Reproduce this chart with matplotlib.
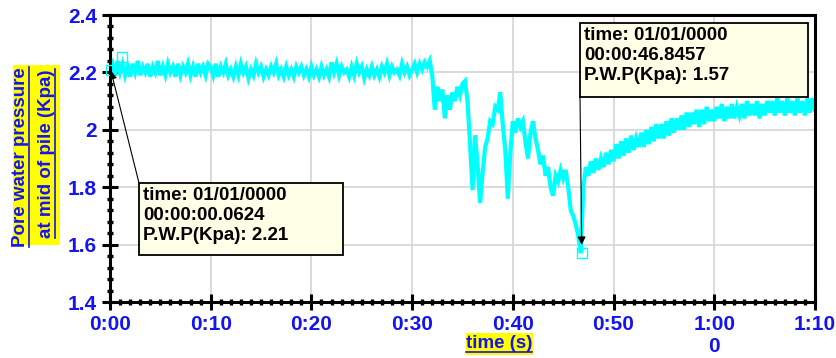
import matplotlib
matplotlib.use('Agg')
import matplotlib.pyplot as plt
import numpy as np
from matplotlib.patches import Rectangle
from matplotlib.lines import Line2D
from matplotlib.ticker import FixedLocator, MultipleLocator

plt.rcParams['font.family'] = ['Liberation Sans', 'DejaVu Sans']

# samples every 0.25 s
t_step = 0.25
pwp_0_10 = [2.21, 2.23, 2.19, 2.24, 2.20, 2.23, 2.19, 2.22, 2.185, 2.23,
            2.20, 2.24, 2.19, 2.22, 2.20, 2.23, 2.185, 2.22, 2.20, 2.24,
            2.19, 2.22, 2.19, 2.23, 2.20, 2.22, 2.185, 2.23, 2.19, 2.22,
            2.20, 2.23, 2.19, 2.22, 2.185, 2.23, 2.20, 2.22, 2.19, 2.23]
pwp_10_20 = [2.22, 2.19, 2.23, 2.185, 2.22, 2.20, 2.23, 2.19, 2.21, 2.185,
             2.22, 2.19, 2.23, 2.20, 2.22, 2.18, 2.21, 2.19, 2.23, 2.20,
             2.22, 2.185, 2.21, 2.19, 2.22, 2.20, 2.23, 2.19, 2.21, 2.185,
             2.22, 2.19, 2.21, 2.185, 2.22, 2.20, 2.22, 2.19, 2.21, 2.185]
pwp_20_30 = [2.22, 2.19, 2.21, 2.185, 2.22, 2.19, 2.21, 2.185, 2.235, 2.20,
             2.23, 2.19, 2.22, 2.20, 2.21, 2.185, 2.22, 2.19, 2.23, 2.20,
             2.22, 2.18, 2.21, 2.19, 2.22, 2.19, 2.21, 2.185, 2.22, 2.20,
             2.23, 2.19, 2.22, 2.20, 2.21, 2.19, 2.23, 2.20, 2.22, 2.19]
pwp_30_40 = [2.21, 2.23, 2.20, 2.23, 2.21, 2.235, 2.22, 2.24, 2.19, 2.07,
             2.15, 2.10, 2.14, 2.04, 2.12, 2.07, 2.13, 2.10, 2.15, 2.12,
             2.16, 2.17, 2.10, 1.95, 1.79, 1.98, 1.88, 1.745, 1.85, 1.94,
             1.97, 2.03, 2.02, 2.08, 2.07, 2.13, 2.02, 1.93, 1.76, 1.92]
pwp_40_50 = [2.03, 1.99, 2.04, 2.01, 2.03, 1.96, 1.90, 1.99, 2.03, 1.97,
             1.93, 1.88, 1.91, 1.84, 1.87, 1.80, 1.77, 1.84, 1.82, 1.86,
             1.83, 1.86, 1.80, 1.72, 1.70, 1.67, 1.63, 1.57, 1.80, 1.87,
             1.84, 1.89, 1.85, 1.90, 1.86, 1.90, 1.87, 1.92, 1.88, 1.93]
pwp_50_60 = [1.89, 1.95, 1.90, 1.96, 1.91, 1.97, 1.92, 1.98, 1.93, 1.97,
             1.94, 1.99, 1.94, 2.00, 1.95, 2.01, 1.96, 2.02, 1.97, 2.02,
             1.97, 2.03, 1.98, 2.04, 1.99, 2.04, 2.00, 2.05, 2.00, 2.06,
             2.01, 2.06, 2.02, 2.07, 2.01, 2.07, 2.02, 2.08, 2.03, 2.07]
pwp_60_70 = [2.03, 2.08, 2.04, 2.09, 2.03, 2.08, 2.04, 2.09, 2.04, 2.08,
             2.05, 2.09, 2.04, 2.10, 2.05, 2.09, 2.05, 2.10, 2.04, 2.09,
             2.05, 2.10, 2.06, 2.10, 2.05, 2.11, 2.06, 2.10, 2.05, 2.11,
             2.06, 2.10, 2.05, 2.11, 2.06, 2.10, 2.05, 2.11, 2.06, 2.11, 2.07]

pwp = np.array(pwp_0_10 + pwp_10_20 + pwp_20_30 + pwp_30_40 +
               pwp_40_50 + pwp_50_60 + pwp_60_70)
t = np.arange(len(pwp)) * t_step

# data tips
tip_t = [0.0624, 46.8457]
tip_v = [2.21, 1.57]
tip_text = ['time: 01/01/0000\n00:00:00.0624\nP.W.P(Kpa): 2.21',
            'time: 01/01/0000\n00:00:46.8457\nP.W.P(Kpa): 1.57']
extra_t = [1.15]
extra_v = [2.255]

xticks = [0, 10, 20, 30, 40, 50, 60, 70]
xlabels = ['0:00', '0:10', '0:20', '0:30', '0:40', '0:50', '1:00\n0', '1:10']
yticks = [1.4, 1.6, 1.8, 2.0, 2.2, 2.4]
ylabels = ['1.4', '1.6', '1.8', '2', '2.2', '2.4']
ylabel_lines = ['Pore water pressure', 'at mid of pile (Kpa)']
xlabel = 'time (s)'

W, H = 837, 358
blue = '#1414F0'
cyan = '#00FFFF'


def px(x, y):
    return (x / W, 1 - y / H)


fig = plt.figure(figsize=(W / 100, H / 100), dpi=100)
ax = fig.add_axes([0.1314, 0.1564, 0.8423, 0.8017])

ax.plot(t, pwp, color=cyan, lw=3.0, solid_joinstyle='miter', zorder=2)
ax.plot(tip_t + extra_t, tip_v + extra_v, ls='none', marker='s', ms=7,
        mfc='none', mec=cyan, mew=1.0, zorder=3, clip_on=False)

ax.set_xlim(0, 70)
ax.set_ylim(1.4, 2.4)
ax.xaxis.set_major_locator(FixedLocator(xticks))
ax.set_xticklabels(xlabels)
ax.yaxis.set_major_locator(FixedLocator(yticks))
ax.set_yticklabels(ylabels)
ax.xaxis.set_minor_locator(MultipleLocator(1))
ax.yaxis.set_minor_locator(MultipleLocator(0.04))
ax.tick_params(which='major', direction='inout', length=11, width=2.2,
               labelsize=15, labelcolor=blue, pad=4)
ax.tick_params(which='minor', direction='inout', length=5, width=2.4)
for lab in ax.get_xticklabels() + ax.get_yticklabels():
    lab.set_fontweight('bold')
for s in ax.spines.values():
    s.set_linewidth(2.2)
ax.grid(True, which='major', color='#D4D4D4', lw=1.2)
ax.set_axisbelow(True)

# yellow highlights behind the axis labels
for (bx, by, bw, bh) in [(13, 65, 47, 180), (466, 333, 67, 22)]:
    x0, y0 = px(bx, by + bh)
    fig.add_artist(Rectangle((x0, y0), bw / W, bh / H,
                             transform=fig.transFigure, fc='yellow',
                             ec='none', zorder=1))

lab_texts = []
for line, (lx, ly) in zip(ylabel_lines, [(21, 67), (47, 69)]):
    lab_texts.append(fig.text(*px(lx, ly), line, rotation=90, ha='center',
                              va='top', fontsize=13.5, fontweight='bold',
                              color=blue, zorder=2))
xl = fig.text(*px(499, 344), xlabel, ha='center', va='center',
              fontsize=13.5, fontweight='bold', color=blue, zorder=2)

# data tip boxes
boxes = [(139, 183, 204, 72), (580, 23, 228, 74)]
starts = [(139, 183), (580, 97)]
shrinks = [1, 6]
for i in range(2):
    bx, by, bw, bh = boxes[i]
    x0, y0 = px(bx, by + bh)
    fig.add_artist(Rectangle((x0, y0), bw / W, bh / H,
                             transform=fig.transFigure, fc='#FFFFE8',
                             ec='black', lw=1.3, zorder=4))
    fig.text(*px(bx + 4, by + 4), tip_text[i], ha='left', va='top',
             fontsize=13.5, fontweight='bold', color='black',
             linespacing=1.22, zorder=5)
    ax.annotate('', xy=(tip_t[i], tip_v[i]), xycoords='data',
                xytext=px(*starts[i]), textcoords='figure fraction',
                arrowprops=dict(arrowstyle='-|>', color='black', lw=0.8,
                                mutation_scale=12, shrinkA=0,
                                shrinkB=shrinks[i]),
                annotation_clip=False)

# underline the axis labels
fig.canvas.draw()
r = fig.canvas.get_renderer()
for txt in lab_texts:
    bb = txt.get_window_extent(r)
    xu = (bb.x1 - 0.5) / W
    fig.add_artist(Line2D([xu, xu], [bb.y0 / H, bb.y1 / H],
                          transform=fig.transFigure, color=blue, lw=1.2,
                          zorder=3))
bb = xl.get_window_extent(r)
yu = (bb.y0 + 0.5) / H
fig.add_artist(Line2D([bb.x0 / W, bb.x1 / W], [yu, yu],
                      transform=fig.transFigure, color=blue, lw=1.2,
                      zorder=3))

fig.savefig('out.png', dpi=100)
